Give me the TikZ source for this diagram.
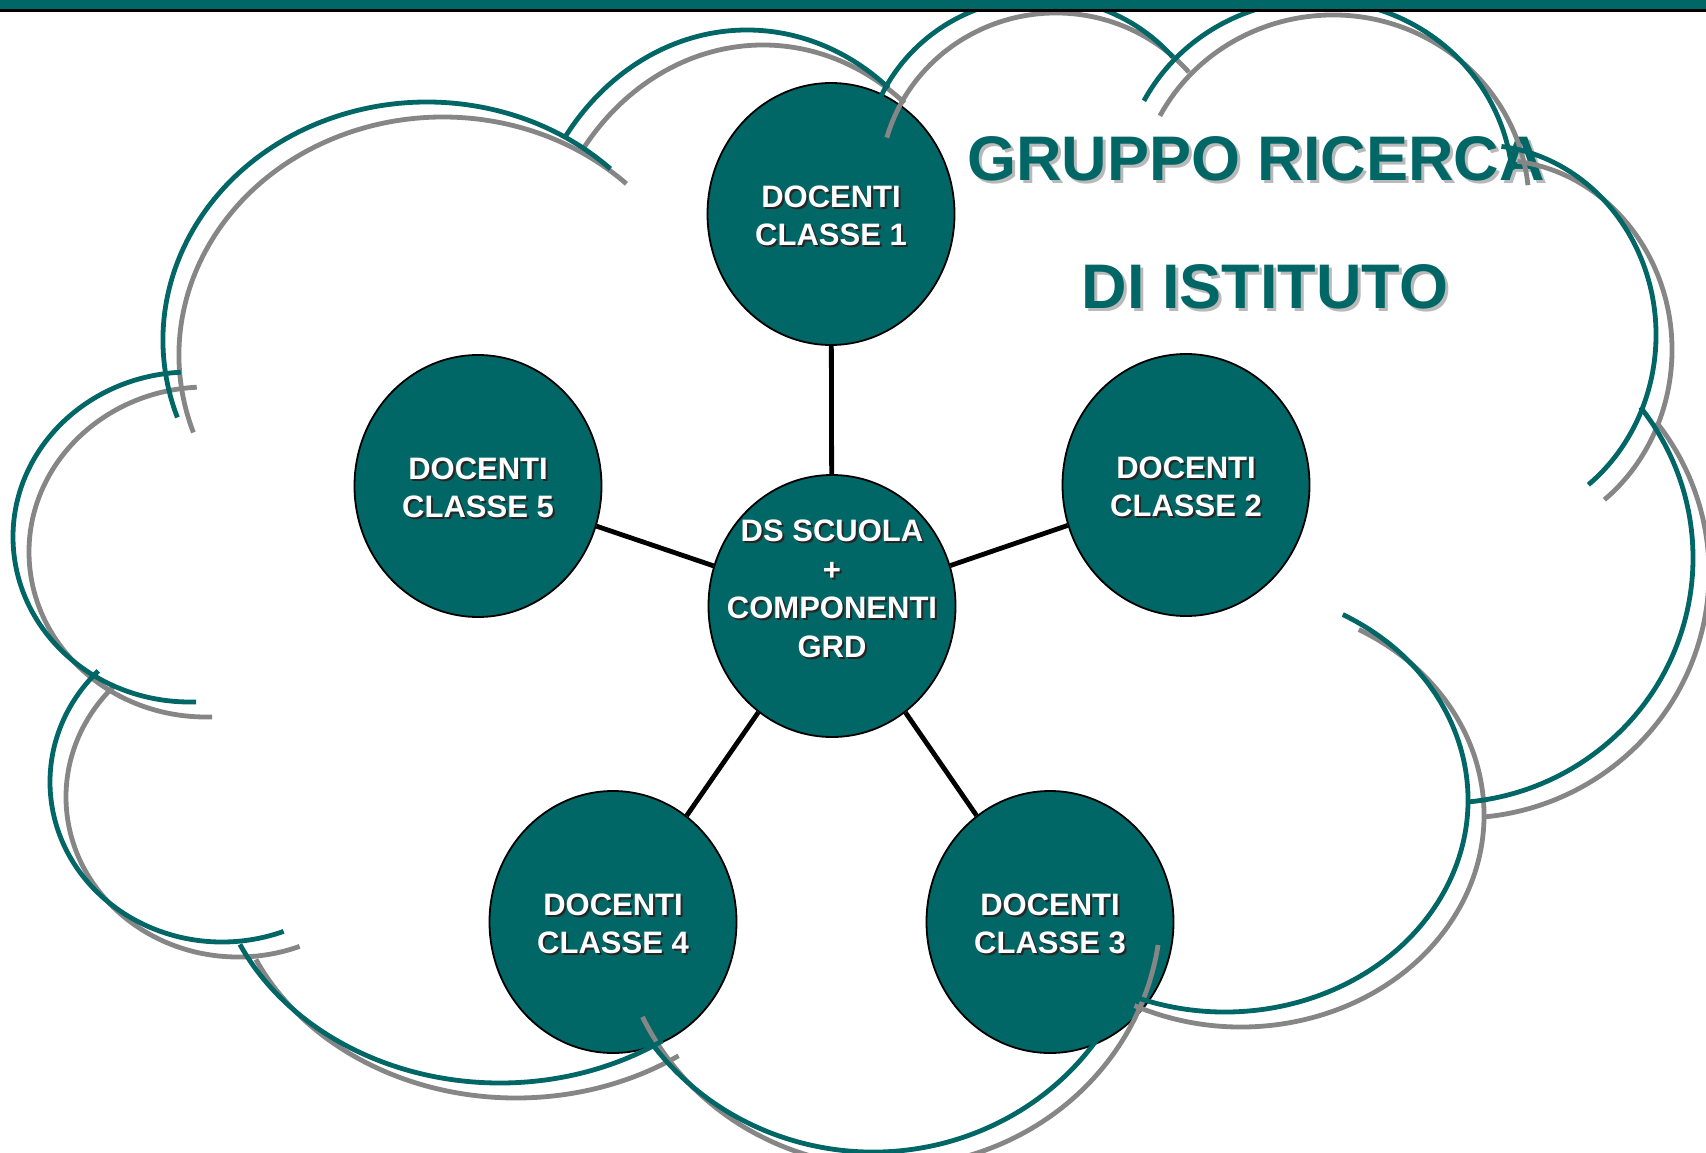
\documentclass[tikz,border=0pt]{standalone}
\usepackage{fontspec}
\setmainfont{Liberation Sans}
\usetikzlibrary{shapes.geometric}
\definecolor{teal6}{RGB}{0,102,102}
\definecolor{cloudgray}{RGB}{134,134,134}
\definecolor{titleshadow}{RGB}{185,185,185}
\begin{document}
\begin{tikzpicture}[x=1pt,y=-1pt,
  circ/.style={ellipse, draw=black, line width=1.8pt, fill=teal6, minimum width=247pt, minimum height=262pt, inner sep=0pt},
  ctext/.style={text=white, align=center, font=\fontsize{31}{38.5}\selectfont\bfseries, inner sep=0pt},
  cshadow/.style={ctext, text=black!85},
  ttext/.style={text=teal6, font=\fontsize{63}{70}\selectfont\bfseries, inner sep=0pt, anchor=base},
  tshadow/.style={ttext, text=titleshadow},
  conn/.style={line width=4.8pt, draw=black},
  cloudline/.style={line width=4.8pt}]

\useasboundingbox (0,0) rectangle (1706,1153);
\clip (0,0) rectangle (1706,1153);
\fill[white] (0,0) rectangle (1706,1153);

% title
\node[tshadow] (g1s) at (1259,183) {GRUPPO RICERCA};
\node[ttext] (g1) at (1256,180) {GRUPPO RICERCA};
\node[tshadow] (g2s) at (1268,311) {DI ISTITUTO};
\node[ttext] (g2) at (1265,308) {DI ISTITUTO};

% circles
\node[circ] (c0) at (832,606) {};
\node[circ] (c1) at (831,214) {};
\node[circ] (c2) at (1186,485) {};
\node[circ] (c3) at (1050,922) {};
\node[circ] (c4) at (613,922) {};
\node[circ] (c5) at (478,486) {};

% connectors
\draw[conn] (c0) -- (c1);
\draw[conn] (c0) -- (c2);
\draw[conn] (c0) -- (c3);
\draw[conn] (c0) -- (c4);
\draw[conn] (c0) -- (c5);

% circle texts
\node[cshadow] (t0s) at (834,591) {DS SCUOLA\\+\\COMPONENTI\\GRD};
\node[ctext] (t0) at (832,589) {DS SCUOLA\\+\\COMPONENTI\\GRD};
\node[cshadow] (t1s) at (833,218) {DOCENTI\\CLASSE 1};
\node[ctext] (t1) at (831,216) {DOCENTI\\CLASSE 1};
\node[cshadow] (t2s) at (1188,489) {DOCENTI\\CLASSE 2};
\node[ctext] (t2) at (1186,487) {DOCENTI\\CLASSE 2};
\node[cshadow] (t3s) at (1052,926) {DOCENTI\\CLASSE 3};
\node[ctext] (t3) at (1050,924) {DOCENTI\\CLASSE 3};
\node[cshadow] (t4s) at (615,926) {DOCENTI\\CLASSE 4};
\node[ctext] (t4) at (613,924) {DOCENTI\\CLASSE 4};
\node[cshadow] (t5s) at (480,490) {DOCENTI\\CLASSE 5};
\node[ctext] (t5) at (478,488) {DOCENTI\\CLASSE 5};

% cloud: shadow then outline
\foreach \dx/\dy/\col in {16/15/cloudgray, 0/0/teal6} {
  \begin{scope}[shift={(\dx,\dy)}]
  \foreach \cx/\cy/\rx/\ry/\a/\b in {
      190/537/177/165/267/88,
      222/782/172/160/224/69,
      500/843/287/240/155/55.5,
      873/892/272/260/155/8.4,
      1225/800/243/212/-61/116,
      1445/558/248/245/-38/85,
      1480/335/176/190/-83/52,
      1317/190/196/190/208/354,
      1040/170/176/172/196/319,
      747/290/225/260/216/309,
      427/340/264/238/161/314} {
    \draw[cloudline, draw=\col] (\cx,\cy) ++({\rx*cos(\a)},{\ry*sin(\a)})
      arc[start angle=\a, end angle=\b, x radius=\rx, y radius=\ry];
  }
  \end{scope}
}

% top bar
\fill[teal6] (0,0) rectangle (1706,9.5);
\fill[black] (0,9.5) rectangle (1706,12);
\end{tikzpicture}
\end{document}
